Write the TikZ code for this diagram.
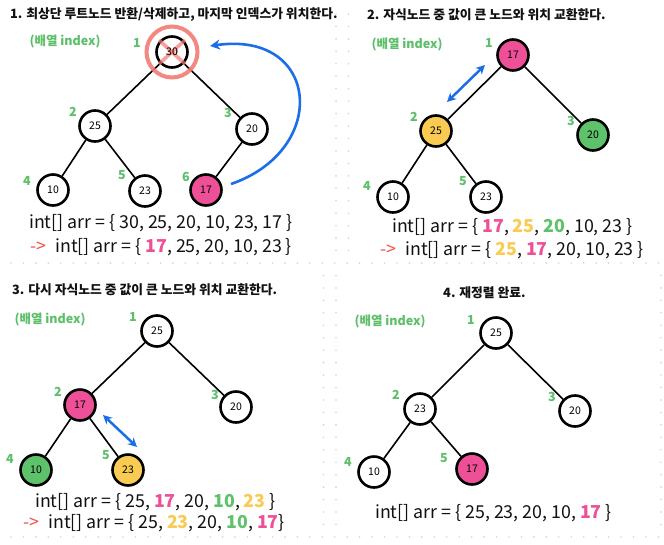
\documentclass[tikz,border=0pt]{standalone}
\usepackage{fontspec}
\setmainfont{Noto Sans CJK KR}
\usetikzlibrary{arrows.meta}
\definecolor{pinkc}{HTML}{EE5097}
\definecolor{yellowc}{HTML}{F9CB52}
\definecolor{greenc}{HTML}{5DC26A}
\definecolor{greent}{HTML}{5DBF69}
\definecolor{bluec}{HTML}{1B6EE8}
\definecolor{redc}{HTML}{F0504A}
\definecolor{ringc}{HTML}{F27B74}
\definecolor{dotc}{HTML}{D4D4D4}
\definecolor{inkc}{HTML}{111111}
\tikzset{
  hnode/.style={circle,draw=black,line width=2.6pt,minimum size=31pt,inner sep=0pt,fill=white,text=black,font=\fontsize{10.5}{12}\selectfont},
  edge/.style={line width=1.6pt,draw=black},
  idx/.style={text=greent,font=\bfseries\fontsize{12.5}{14}\selectfont},
  ttl/.style={anchor=west,text=inkc,font=\bfseries\fontsize{12.8}{15}\selectfont,inner sep=0pt},
  arrline/.style={anchor=west,text=inkc,font=\fontsize{17.8}{20}\selectfont,inner sep=0pt},
  swap/.style={draw=bluec,line width=2.5pt,{Stealth[length=9pt,width=9pt]}-{Stealth[length=9pt,width=9pt]}},
  gdot/.style={fill=dotc,draw=none},
}
\begin{document}
\begin{tikzpicture}[x=1pt,y=-1pt]
\useasboundingbox[fill=white] (0,0) rectangle (664,544);
% dotted canvas gaps
\foreach \k in {0,...,52} {
  \fill[gdot] ({11+12.45*\k},263) circle (0.9);
  \fill[gdot] ({11+12.45*\k},537) circle (0.9);
}
\foreach \k in {1,...,20} {
  \fill[gdot] (336,{263-12.45*\k}) circle (0.9);
  \fill[gdot] (348.5,{263-12.45*\k}) circle (0.9);
}
\foreach \k in {1,...,21} {
  \fill[gdot] (323.5,{263+12.45*\k}) circle (0.9);
  \fill[gdot] (336,{263+12.45*\k}) circle (0.9);
  \fill[gdot] (661,{263+12.45*\k}) circle (0.9);
}

% ---------------- Panel 1 ----------------
\node[ttl] (t1) at (10,15) {1. 최상단 루트노드 반환/삭제하고, 마지막 인덱스가 위치한다.};
\node[idx] (i1) at (65,42) {(배열 index)};
\node[hnode] (a1) at (172,52) {30};
\node[hnode] (a2) at (95,126) {25};
\node[hnode] (a3) at (252,129) {20};
\node[hnode] (a4) at (53,190) {10};
\node[hnode] (a5) at (145,191) {23};
\node[hnode,fill=pinkc] (a6) at (206,190) {17};
\draw[edge] (a1) -- (a2);
\draw[edge] (a1) -- (a3);
\draw[edge] (a2) -- (a4);
\draw[edge] (a2) -- (a5);
\draw[edge] (a3) -- (a6);
\node[idx] (a1l) at (137,43) {1};
\node[idx] (a2l) at (73,112) {2};
\node[idx] (a3l) at (228,113) {3};
\node[idx] (a4l) at (27,181) {4};
\node[idx] (a5l) at (122,175) {5};
\node[idx] (a6l) at (186,177) {6};
% removal mark
\draw[draw=ringc,line width=4pt,opacity=0.9] (a1.center) circle (25.5);
\draw[draw=ringc,line width=3.6pt,opacity=0.7] ([shift={(-13,-12)}]a1.center) -- ([shift={(13,12)}]a1.center);
\draw[draw=ringc,line width=3.6pt,opacity=0.7] ([shift={(13,-12)}]a1.center) -- ([shift={(-13,12)}]a1.center);
\node[font=\fontsize{10.5}{12}\selectfont,text=black,opacity=0.85] (a1t) at (a1.center) {30};
% move arrow
\coordinate (mvs) at (231,184);
\coordinate (mve) at (210,46);
\draw[draw=bluec,line width=2.6pt,-{Stealth[length=10pt,width=10pt]}] (mvs) .. controls (330,150) and (320,30) .. (mve);
\node[arrline] (l11) at (29,223) {int[] arr = \{ 30, 25, 20, 10, 23, 17 \}};
\node[arrline] (l12) at (30,247) {\textcolor{redc}{->}\hspace{9pt}int[] arr = \{ \textcolor{pinkc}{\textbf{17}}, 25, 20, 10, 23 \}};

% ---------------- Panel 2 ----------------
\node[ttl] (t2) at (367,15) {2. 자식노드 중 값이 큰 노드와 위치 교환한다.};
\node[idx] (i2) at (407,45) {(배열 index)};
\node[hnode,fill=pinkc] (b1) at (513,55) {17};
\node[hnode,fill=yellowc] (b2) at (436,131) {25};
\node[hnode,fill=greenc] (b3) at (593,135) {20};
\node[hnode] (b4) at (393,197) {10};
\node[hnode] (b5) at (486,197) {23};
\draw[edge] (b1) -- (b2);
\draw[edge] (b1) -- (b3);
\draw[edge] (b2) -- (b4);
\draw[edge] (b2) -- (b5);
\node[idx] (b1l) at (489,43) {1};
\node[idx] (b2l) at (414,117) {2};
\node[idx] (b3l) at (571,121) {3};
\node[idx] (b4l) at (367,186) {4};
\node[idx] (b5l) at (463,181) {5};
\coordinate (s2a) at (485,65);
\coordinate (s2b) at (447,102);
\draw[swap] (s2a) -- (s2b);
\node[arrline] (l21) at (392,227) {int[] arr = \{ \textcolor{pinkc}{\textbf{17}}, \textcolor{yellowc}{\textbf{25}}, \textcolor{greenc}{\textbf{20}}, 10, 23 \}};
\node[arrline] (l22) at (380,250) {\textcolor{redc}{->}\hspace{9pt}int[] arr = \{ \textcolor{yellowc}{\textbf{25}}, \textcolor{pinkc}{\textbf{17}}, 20, 10, 23 \}};

% ---------------- Panel 3 ----------------
\node[ttl] (t3) at (12,290) {3. 다시 자식노드 중 값이 큰 노드와 위치 교환한다.};
\node[idx] (i3) at (50,320) {(배열 index)};
\node[hnode] (c1) at (157,331) {25};
\node[hnode,fill=pinkc] (c2) at (80,405) {17};
\node[hnode] (c3) at (236,407) {20};
\node[hnode,fill=greenc] (c4) at (36,470) {10};
\node[hnode,fill=yellowc] (c5) at (128,470) {23};
\draw[edge] (c1) -- (c2);
\draw[edge] (c1) -- (c3);
\draw[edge] (c2) -- (c4);
\draw[edge] (c2) -- (c5);
\node[idx] (c1l) at (133,317) {1};
\node[idx] (c2l) at (58,392) {2};
\node[idx] (c3l) at (215,395) {3};
\node[idx] (c4l) at (10,459) {4};
\node[idx] (c5l) at (106,455) {5};
\coordinate (s3a) at (103,415);
\coordinate (s3b) at (137,447);
\draw[swap] (s3a) -- (s3b);
\node[arrline] (l31) at (35,502) {int[] arr = \{ 25, \textcolor{pinkc}{\textbf{17}}, 20, \textcolor{greenc}{\textbf{10}}, \textcolor{yellowc}{\textbf{23}} \}};
\node[arrline] (l32) at (23,523) {\textcolor{redc}{->}\hspace{9pt}int[] arr = \{ 25, \textcolor{yellowc}{\textbf{23}}, 20, \textcolor{greenc}{\textbf{10}}, \textcolor{pinkc}{\textbf{17}}\}};

% ---------------- Panel 4 ----------------
\node[ttl] (t4) at (443,293) {4. 재정렬 완료.};
\node[idx] (i4) at (390,322) {(배열 index)};
\node[hnode] (d1) at (496,333) {25};
\node[hnode] (d2) at (420,409) {23};
\node[hnode] (d3) at (575,411) {20};
\node[hnode] (d4) at (374,472) {10};
\node[hnode,fill=pinkc] (d5) at (472,469) {17};
\draw[edge] (d1) -- (d2);
\draw[edge] (d1) -- (d3);
\draw[edge] (d2) -- (d4);
\draw[edge] (d2) -- (d5);
\node[idx] (d1l) at (471,320) {1};
\node[idx] (d2l) at (396,395) {2};
\node[idx] (d3l) at (552,397) {3};
\node[idx] (d4l) at (348,462) {4};
\node[idx] (d5l) at (444,458) {5};
\node[arrline] (l41) at (375,513) {int[] arr = \{ 25, 23, 20, 10, \textcolor{pinkc}{\textbf{17}} \}};
\end{tikzpicture}
\end{document}
